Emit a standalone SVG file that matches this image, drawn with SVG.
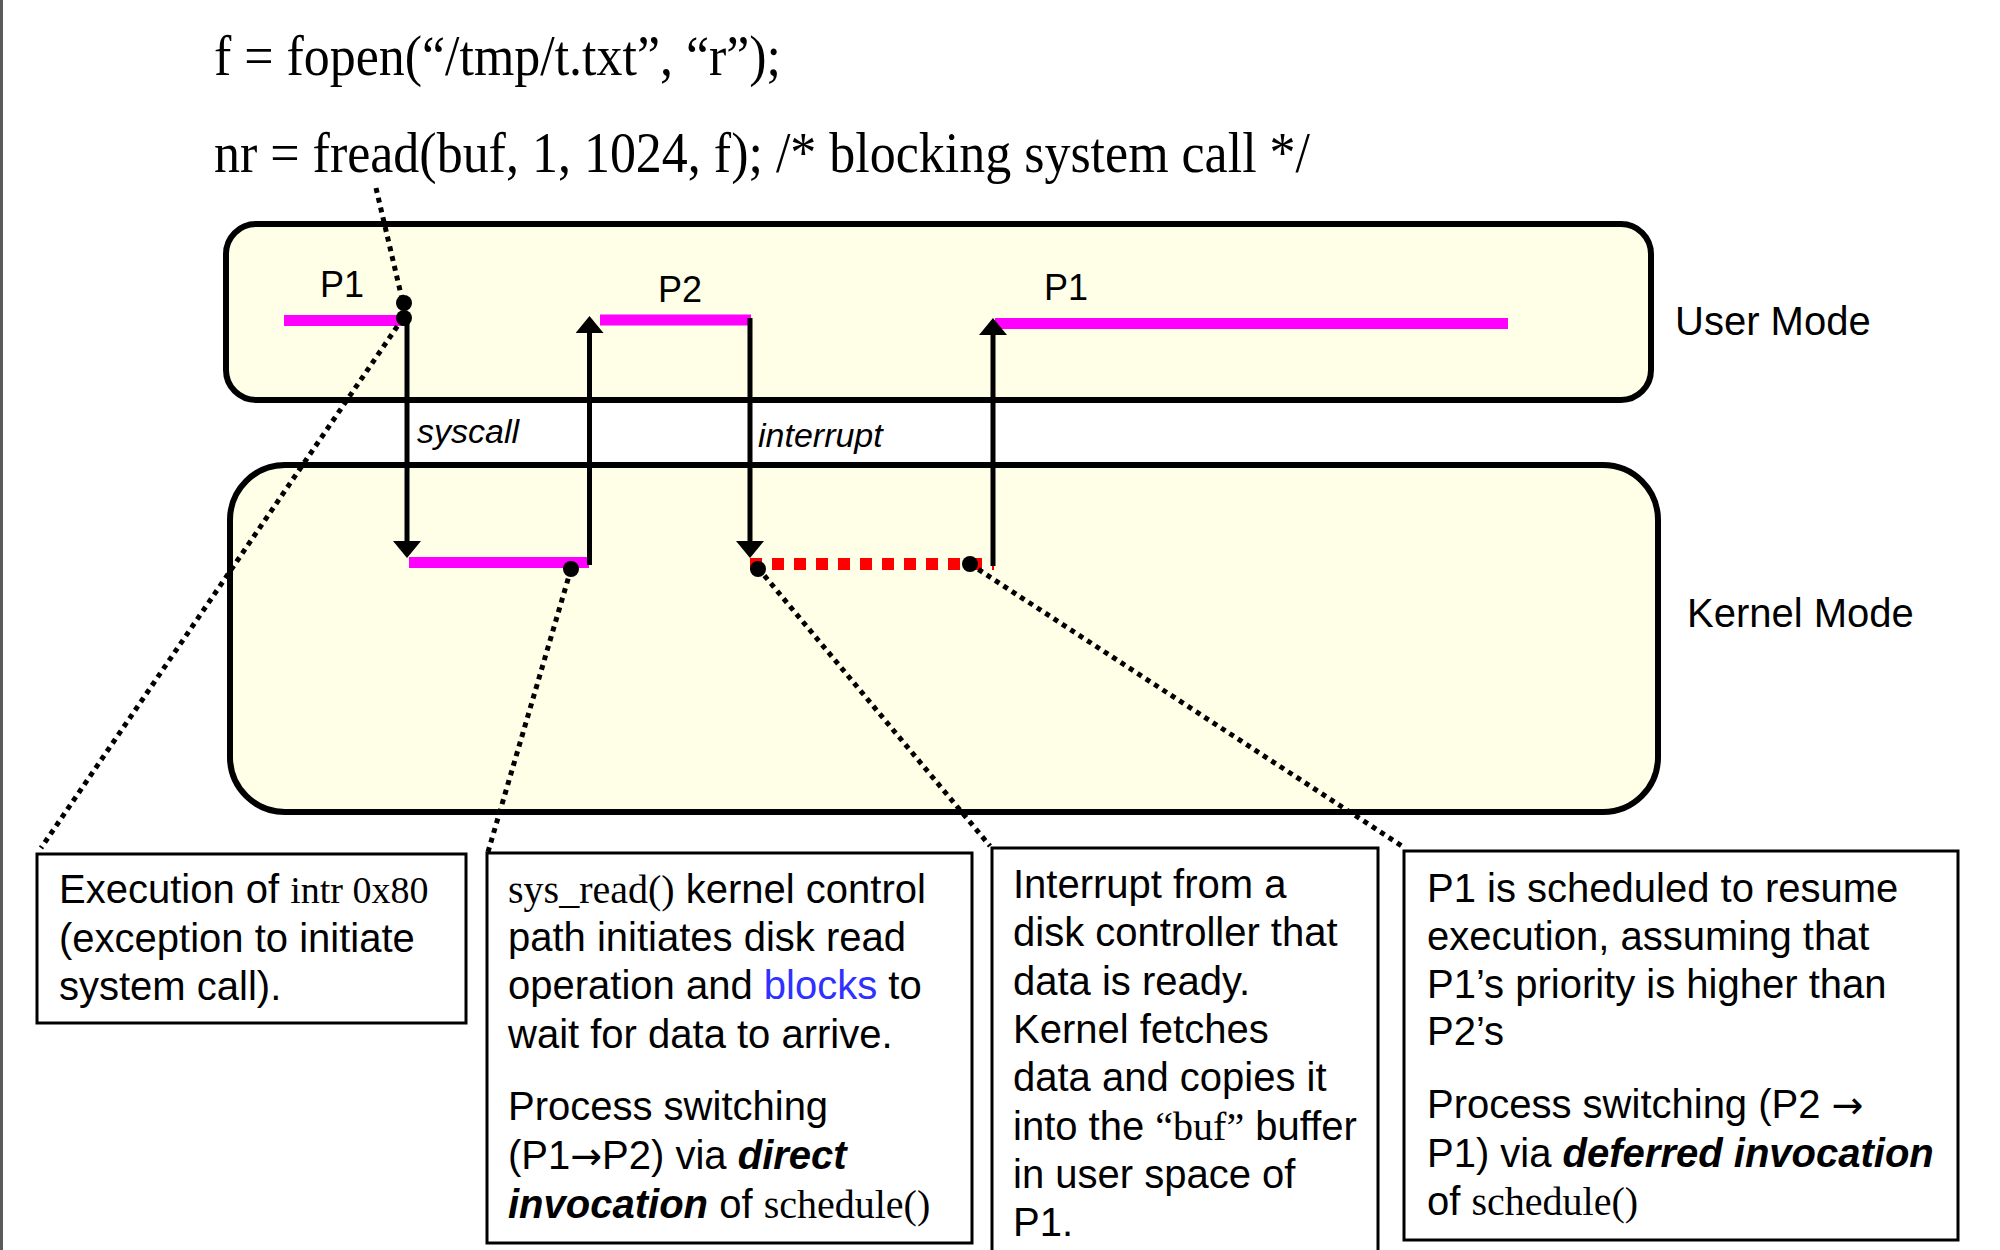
<svg xmlns="http://www.w3.org/2000/svg" width="2000" height="1250" viewBox="0 0 2000 1250">
<style>
.sans{font-family:"Liberation Sans",Arial,sans-serif}
.serif{font-family:"Liberation Serif","Times New Roman",serif}
.arr{font-family:"DejaVu Sans",sans-serif;font-size:38px}
.mode{fill:#FFFEE6;stroke:#000;stroke-width:6}
.note{fill:#fff;stroke:#000;stroke-width:3}
.flow{stroke:#000;stroke-width:5;fill:none}
.lead{stroke:#000;stroke-width:5;stroke-dasharray:5 5;fill:none}
.run{stroke:#FF00FF;stroke-width:11;fill:none}
.wait{stroke:#FF0000;stroke-width:12;stroke-dasharray:12 10;fill:none}
.t40{font-size:40px}
.bi{font-weight:bold;font-style:italic}
.dot{fill:#000}
</style>
<defs>
<marker id="ah" viewBox="0 0 17 28" refX="5" refY="14" markerWidth="17" markerHeight="28" markerUnits="userSpaceOnUse" orient="auto"><path d="M0,0 L17,14 L0,28 z" fill="#000"/></marker>
</defs>
<rect x="0" y="0" width="3" height="1250" fill="#5a5a5a"/>

<g id="code" class="serif" font-size="57" fill="#000">
<text x="214" y="75" textLength="567" lengthAdjust="spacingAndGlyphs">f = fopen(“/tmp/t.txt”, “r”);</text>
<text x="214" y="172" textLength="1096" lengthAdjust="spacingAndGlyphs">nr = fread(buf, 1, 1024, f); /* blocking system call */</text>
</g>

<g id="user-mode">
<rect class="mode" x="226" y="224" width="1425" height="176" rx="30" ry="30"/>
<text class="sans t40" x="1675" y="335">User Mode</text>
</g>
<g id="kernel-mode">
<rect class="mode" x="230" y="465" width="1428" height="347" rx="55" ry="55"/>
<text class="sans t40" x="1687" y="627">Kernel Mode</text>
</g>

<g id="timeline">
<line class="run" x1="284" y1="320.5" x2="404" y2="320.5"/>
<line class="run" x1="600" y1="320" x2="751" y2="320"/>
<line class="run" x1="995" y1="323.5" x2="1508" y2="323.5"/>
<line class="run" x1="409" y1="562.5" x2="589" y2="562.5"/>
<line class="wait" x1="750" y1="564" x2="994" y2="564"/>
<g class="sans" font-size="36">
<text x="320" y="297">P1</text>
<text x="658" y="302">P2</text>
<text x="1044" y="300">P1</text>
</g>
</g>

<g id="connectors">
<line class="flow" x1="407" y1="318" x2="407" y2="546" marker-end="url(#ah)"/>
<line class="flow" x1="589.5" y1="565" x2="589.5" y2="328" marker-end="url(#ah)"/>
<line class="flow" x1="750" y1="318" x2="750" y2="546" marker-end="url(#ah)"/>
<line class="flow" x1="993" y1="566" x2="993" y2="330" marker-end="url(#ah)"/>
<text class="sans" font-size="34" font-style="italic" x="417" y="443">syscall</text>
<text class="sans" font-size="34" font-style="italic" x="758" y="447">interrupt</text>
<line class="lead" x1="376" y1="188" x2="403" y2="303"/>
<line class="lead" x1="403" y1="318" x2="41" y2="848"/>
<line class="lead" x1="571" y1="569" x2="488" y2="852"/>
<line class="lead" x1="758" y1="568" x2="990" y2="846"/>
<line class="lead" x1="970" y1="564" x2="1405" y2="848"/>
<circle class="dot" cx="404" cy="303" r="8"/>
<circle class="dot" cx="404" cy="318" r="8"/>
<circle class="dot" cx="571" cy="569" r="8"/>
<circle class="dot" cx="758" cy="569" r="8"/>
<circle class="dot" cx="970" cy="564" r="8"/>
</g>

<g id="note-exception">
<rect class="note" x="37" y="854" width="429" height="169"/>
<text class="sans t40" x="59" y="903">Execution of <tspan class="serif" font-size="38">intr 0x80</tspan></text>
<text class="sans t40" x="59" y="952">(exception to initiate</text>
<text class="sans t40" x="59" y="1000">system call).</text>
</g>

<g id="note-sysread">
<rect class="note" x="487" y="853" width="485" height="390"/>
<text class="sans t40" x="508" y="903"><tspan class="serif">sys_read()</tspan> kernel control</text>
<text class="sans t40" x="508" y="951">path initiates disk read</text>
<text class="sans t40" x="508" y="999">operation and <tspan fill="#3030FF">blocks</tspan> to</text>
<text class="sans t40" x="508" y="1048">wait for data to arrive.</text>
<text class="sans t40" x="508" y="1120">Process switching</text>
<text class="sans t40" x="508" y="1169">(P1<tspan class="arr">→</tspan>P2) via <tspan class="bi">direct</tspan></text>
<text class="sans t40" x="508" y="1218"><tspan class="bi">invocation</tspan> of <tspan class="serif">schedule()</tspan></text>
</g>

<g id="note-interrupt">
<rect class="note" x="992" y="848" width="386" height="420"/>
<text class="sans t40" x="1013" y="898">Interrupt from a</text>
<text class="sans t40" x="1013" y="946">disk controller that</text>
<text class="sans t40" x="1013" y="995">data is ready.</text>
<text class="sans t40" x="1013" y="1043">Kernel fetches</text>
<text class="sans t40" x="1013" y="1091">data and copies it</text>
<text class="sans t40" x="1013" y="1140">into the <tspan class="serif">“buf”</tspan> buffer</text>
<text class="sans t40" x="1013" y="1188">in user space of</text>
<text class="sans t40" x="1013" y="1236">P1.</text>
</g>

<g id="note-resume">
<rect class="note" x="1404" y="851" width="554" height="389"/>
<text class="sans t40" x="1427" y="902">P1 is scheduled to resume</text>
<text class="sans t40" x="1427" y="950">execution, assuming that</text>
<text class="sans t40" x="1427" y="998">P1’s priority is higher than</text>
<text class="sans t40" x="1427" y="1045">P2’s</text>
<text class="sans t40" x="1427" y="1118">Process switching (P2 <tspan class="arr">→</tspan></text>
<text class="sans t40" x="1427" y="1167">P1) via <tspan class="bi">deferred invocation</tspan></text>
<text class="sans t40" x="1427" y="1215">of <tspan class="serif">schedule()</tspan></text>
</g>
</svg>
